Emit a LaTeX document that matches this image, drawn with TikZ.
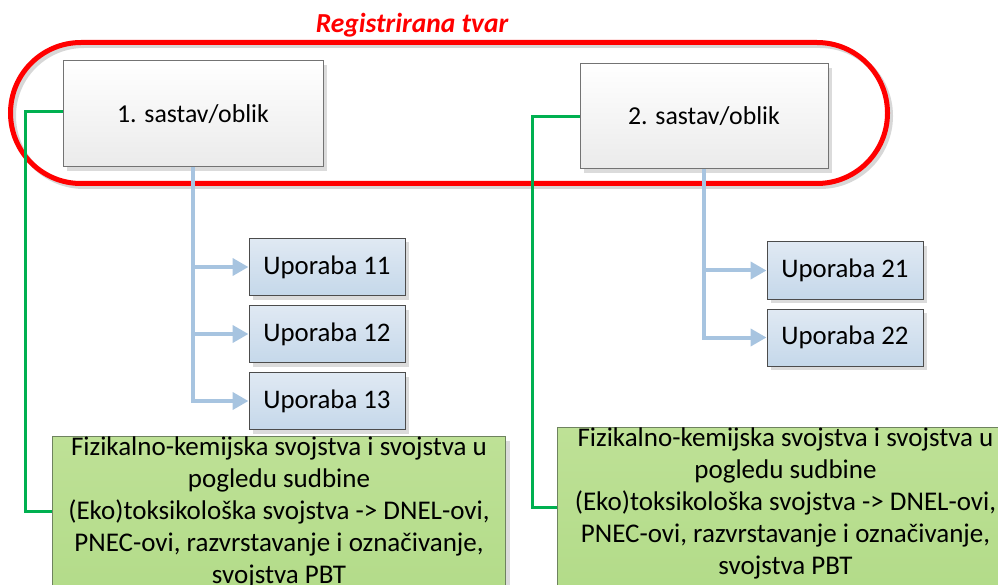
\documentclass[tikz,border=0pt]{standalone}
\usepackage{fontspec}
\setmainfont{Carlito}
\usetikzlibrary{arrows.meta,shadows}
\definecolor{ringred}{RGB}{255,0,0}
\definecolor{ringshade}{RGB}{215,215,215}
\definecolor{usefill1}{RGB}{224,233,243}
\definecolor{usefill2}{RGB}{197,216,234}
\definecolor{linkblue}{RGB}{167,196,224}
\definecolor{linkgreen}{RGB}{0,176,80}
\definecolor{propfill1}{RGB}{190,225,150}
\definecolor{propfill2}{RGB}{176,218,134}
\definecolor{propedge}{RGB}{110,130,95}
\tikzset{
  boxshadow/.style={drop shadow={shadow xshift=4pt,shadow yshift=-4pt,fill=black!14,opacity=1}},
  formbox/.style={draw=black!55,line width=1pt,top color=white,bottom color=black!8,
    boxshadow,inner sep=0pt,font=\fontsize{25.8}{30}\selectfont},
  usebox/.style={draw=black!70,line width=1pt,top color=usefill1,bottom color=usefill2,
    boxshadow,minimum width=156pt,minimum height=57pt,inner sep=0pt,
    font=\fontsize{26.8}{30}\selectfont},
  propbox/.style={draw=propedge,line width=1pt,top color=propfill1,bottom color=propfill2,
    boxshadow,inner sep=0pt,anchor=north west},
  proptext/.style={align=center,inner sep=0pt,anchor=north,
    font=\fontsize{27}{32}\selectfont},
  uselink/.style={draw=linkblue,line width=4pt},
  usearrow/.style={uselink,-{Triangle[length=16pt,width=17pt]}},
  proplink/.style={draw=linkgreen,line width=3pt},
}
\begin{document}
\begin{tikzpicture}[x=1pt,y=1pt]
\useasboundingbox (0,0) rectangle (998,-585);
\clip (0,0) rectangle (998,-585);

% registered substance ring with its grey shadow
\draw[ringshade,line width=5pt,rounded corners=70.5pt]
  (13.5,-45.5) rectangle (890.5,-186.5);
\draw[ringred,line width=5pt,rounded corners=70.5pt]
  (10.5,-42.5) rectangle (887.5,-183.5);
\node[text=ringred,font=\fontsize{27.5}{30}\selectfont\bfseries\itshape] (title) at (412,-25) {Registrirana tvar};

% property boxes (extend below the page edge)
\node[propbox,minimum width=453pt,minimum height=200pt] (p1) at (52,-436) {};
\node[proptext] (p1t) at ([yshift=-1pt]p1.north) {Fizikalno-kemijska svojstva i svojstva u\\pogledu sudbine\\(Eko)toksikološka svojstva -> DNEL-ovi,\\PNEC-ovi, razvrstavanje i označivanje,\\svojstva PBT};
\node[propbox,minimum width=456pt,minimum height=200pt] (p2) at (557,-427) {};
\node[proptext] (p2t) at ([yshift=-1pt]p2.north) {Fizikalno-kemijska svojstva i svojstva u\\pogledu sudbine\\(Eko)toksikološka svojstva -> DNEL-ovi,\\PNEC-ovi, razvrstavanje i označivanje,\\svojstva PBT};

% composition / form boxes
\node[formbox,minimum width=260pt,minimum height=106pt] (f1) at (193,-114) {1. sastav/oblik};
\node[formbox,minimum width=248pt,minimum height=105pt] (f2) at (704,-116.5) {2. sastav/oblik};

% uses
\node[usebox] (u11) at (327,-267) {Uporaba 11};
\node[usebox] (u12) at (327,-334) {Uporaba 12};
\node[usebox] (u13) at (327,-401) {Uporaba 13};
\node[usebox] (u21) at (845,-270.5) {Uporaba 21};
\node[usebox] (u22) at (845,-337.5) {Uporaba 22};

% links from each form to its uses
\draw[uselink] (f1.south) -- (f1.south |- u13.west);
\draw[usearrow] (f1.south |- u11.west) -- (u11.west);
\draw[usearrow] (f1.south |- u12.west) -- (u12.west);
\draw[usearrow] ([xshift=-2pt]f1.south |- u13.west) -- (u13.west);
\draw[uselink] (f2.south) -- (f2.south |- u22.west);
\draw[usearrow] (f2.south |- u21.west) -- (u21.west);
\draw[usearrow] ([xshift=-2pt]f2.south |- u22.west) -- (u22.west);

% links from each form to its property set
\coordinate (c1) at (25,0);
\coordinate (c2) at (532,0);
\draw[proplink] ([yshift=2pt]f1.west) -| (c1 |- 0,-511) -- (p1.west |- 0,-511);
\draw[proplink] ([yshift=0pt]f2.west) -| (c2 |- 0,-507) -- (p2.west |- 0,-507);
\end{tikzpicture}
\end{document}
